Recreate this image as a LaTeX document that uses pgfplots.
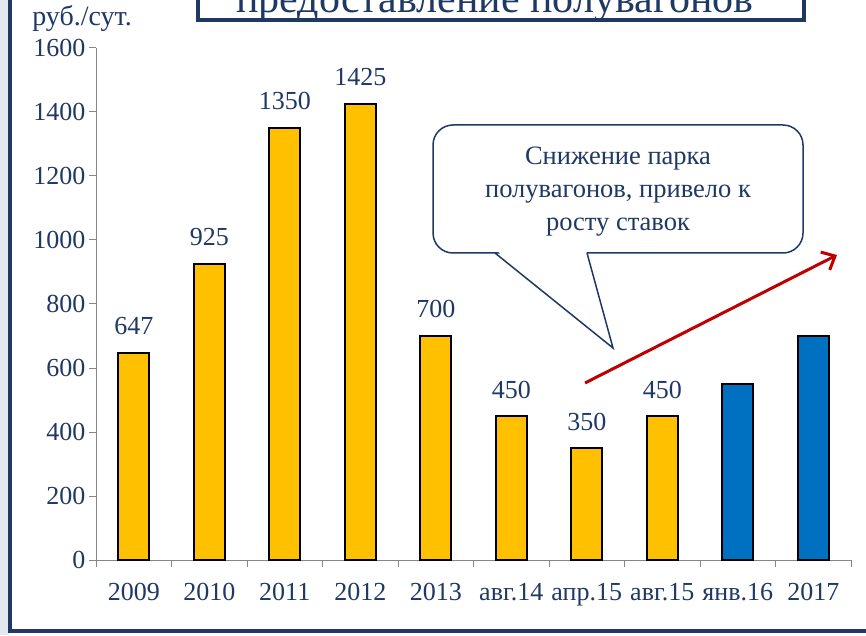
\documentclass[border=0pt]{standalone}
\usepackage{pgfplots}
\pgfplotsset{compat=1.18}
\usepackage{fontspec}
\setmainfont{Liberation Serif}
\usetikzlibrary{arrows.meta}
\definecolor{navy}{HTML}{1F3864}
\definecolor{barY}{HTML}{FFC000}
\definecolor{barB}{HTML}{0070C0}
\definecolor{axgray}{HTML}{868686}
\definecolor{darkred}{HTML}{C00000}
\definecolor{sidebg}{HTML}{E3E8EF}
\begin{document}
\begin{tikzpicture}
\useasboundingbox (0pt,0pt) rectangle (866pt,635pt);
\clip (0pt,0pt) rectangle (866pt,635pt);
\fill[white] (0pt,0pt) rectangle (866pt,635pt);
\fill[sidebg] (0pt,0pt) rectangle (9pt,635pt);
% frame
\draw[navy, line width=3.5pt] (10pt,645pt) -- (10pt,4pt) -- (875pt,4pt);
% title box
\draw[navy, line width=4pt, fill=white] (198pt,615pt) rectangle (804pt,660pt);
\node[anchor=base, text=navy, font=\fontsize{42}{46}\selectfont] at (495pt,622pt) {предоставление полувагонов};
% y unit
\node[anchor=base, text=navy, font=\fontsize{28}{32}\selectfont] at (82pt,609pt) {руб./сут.};
\begin{axis}[
  at={(96pt,75pt)}, anchor=south west,
  scale only axis, width=755pt, height=512pt,
  xmin=-0.5, xmax=9.5, ymin=0, ymax=1600,
  axis lines=left,
  x axis line style={-, draw=axgray, line width=1pt},
  y axis line style={-, draw=axgray, line width=1pt},
  ytick={0,200,...,1600},
  xtick={-0.5,0.5,...,9.5},
  xticklabels={2009,2010,2011,2012,2013,авг.14,апр.15,авг.15,янв.16,2017,{}},
  tick align=outside, major tick length=7pt,
  tick style={draw=axgray, line width=1pt},
  ticklabel style={font=\fontsize{26}{30}\selectfont, text=navy},
  xticklabel style={xshift=37.75pt, yshift=-13pt},
  /pgf/number format/assume math mode=true,
  /pgf/number format/1000 sep={},
  ybar, bar width=31pt, bar shift=0pt,
  clip=false,
]
\addplot[fill=barY, draw=black, line width=1.6pt,
  nodes near coords,
  every node near coord/.style={anchor=base, yshift=18pt, text=navy, font=\fontsize{26}{30}\selectfont}]
  coordinates {(0,647) (1,925) (2,1350) (3,1425) (4,700) (5,450) (6,350) (7,450)};
\addplot[fill=barB, draw=black, line width=1.6pt]
  coordinates {(8,550) (9,700)};
\end{axis}
% callout
\draw[navy, line width=1.5pt, fill=white, rounded corners=20pt] (433pt,382pt) rectangle (803pt,510pt);
\fill[white] (496pt,385pt) -- (586pt,385pt) -- (613pt,287pt) -- cycle;
\draw[navy, line width=1.5pt] (495pt,382pt) -- (613pt,287pt) -- (587pt,382pt);
\node[align=center, text=navy, font=\fontsize{26.5}{33}\selectfont] at (618pt,443pt)
  {Снижение парка\\полувагонов, привело к\\росту ставок};
% red arrow
\draw[darkred, line width=3pt, -{Straight Barb[length=11pt, width=20pt, line width=3pt]}] (585pt,252pt) -- (837pt,380pt);
\end{tikzpicture}
\end{document}
